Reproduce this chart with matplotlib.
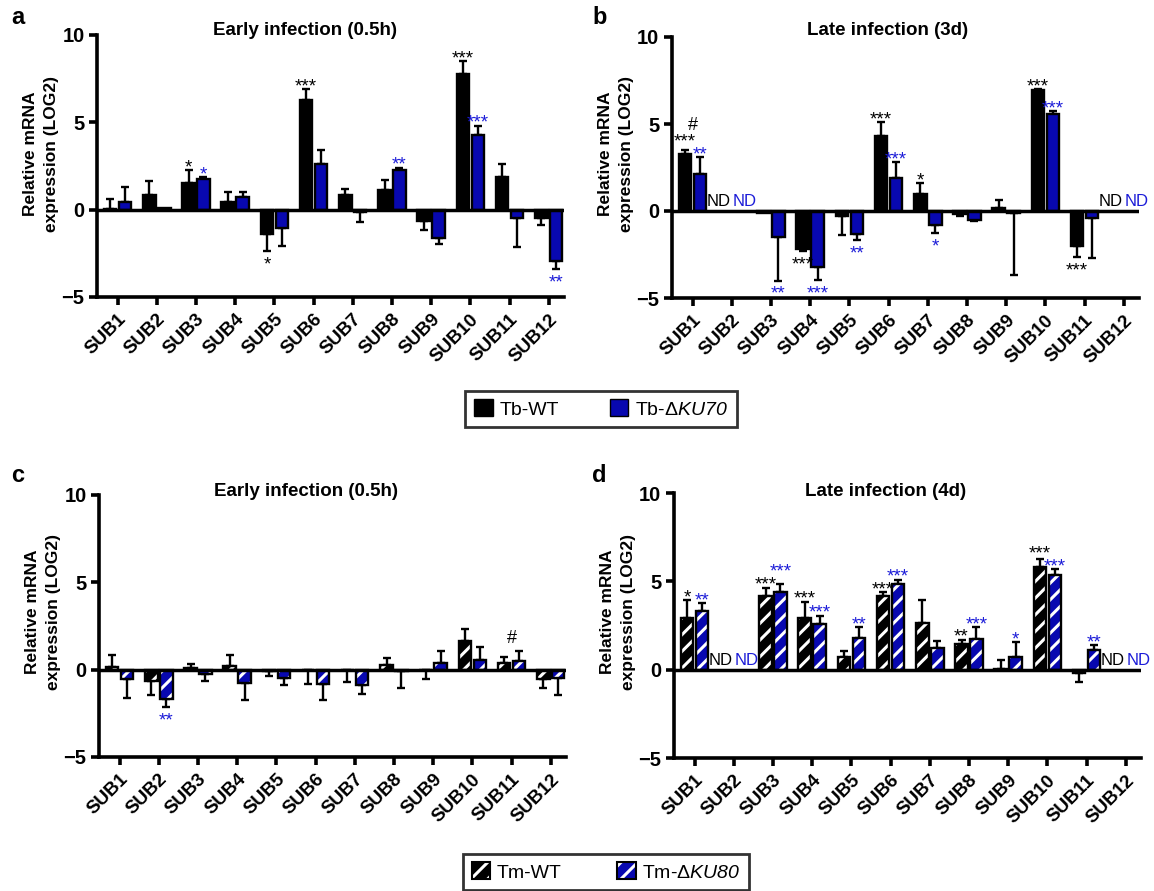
import numpy as np
import matplotlib
matplotlib.use('Agg')
import matplotlib.pyplot as plt
from matplotlib.patches import Patch

plt.rcParams['font.family'] = ['Liberation Sans', 'DejaVu Sans']
plt.rcParams['mathtext.fontset'] = 'custom'
plt.rcParams['mathtext.it'] = 'Liberation Sans:italic'
plt.rcParams['mathtext.rm'] = 'Liberation Sans:italic'
plt.rcParams['hatch.linewidth'] = 2.2

# ---------------- data ----------------
categories = ['SUB1', 'SUB2', 'SUB3', 'SUB4', 'SUB5', 'SUB6',
              'SUB7', 'SUB8', 'SUB9', 'SUB10', 'SUB11', 'SUB12']
nan = np.nan

# Panel a: Early infection (0.5h), Tb
a_wt = [0.05, 0.85, 1.55, 0.45, -1.4, 6.3, 0.85, 1.1, -0.65, 7.75, 1.85, -0.45]
a_wt_sem = [0.55, 0.8, 0.7, 0.55, 0.95, 0.6, 0.35, 0.6, 0.5, 0.75, 0.75, 0.45]
a_ko = [0.45, 0.08, 1.75, 0.7, -1.05, 2.6, -0.15, 2.25, -1.6, 4.3, -0.45, -2.95]
a_ko_sem = [0.85, 0.0, 0.1, 0.3, 1.05, 0.8, 0.55, 0.15, 0.35, 0.5, 1.7, 0.45]
a_sig_wt = ['', '', '*', '', '*', '***', '', '', '', '***', '', '']
a_sig_ko = ['', '', '*', '', '', '', '', '**', '', '***', '', '**']
a_hash = ['', '', '', '', '', '', '', '', '', '', '', '']

# Panel b: Late infection (3d), Tb
b_wt = [3.25, nan, -0.1, -2.2, -0.3, 4.3, 0.95, -0.2, 0.15, 6.95, -2.0, nan]
b_wt_sem = [0.25, 0, 0.0, 0.1, 1.1, 0.8, 0.65, 0.1, 0.5, 0.05, 0.65, 0]
b_ko = [2.1, nan, -1.5, -3.2, -1.35, 1.9, -0.8, -0.5, -0.1, 5.55, -0.4, nan]
b_ko_sem = [1.0, 0, 2.5, 0.75, 0.3, 0.9, 0.45, 0.05, 3.55, 0.2, 2.3, 0]
b_sig_wt = ['***', '', '', '***', '', '***', '*', '', '', '***', '***', '']
b_sig_ko = ['**', '', '**', '***', '**', '***', '*', '', '', '***', '', '']
b_hash = ['#', '', '', '', '', '', '', '', '', '', '', '']

# Panel c: Early infection (0.5h), Tm
c_wt = [0.15, -0.65, 0.1, 0.2, -0.05, -0.03, -0.03, 0.25, -0.03, 1.65, 0.4, -0.55]
c_wt_sem = [0.7, 0.8, 0.25, 0.65, 0.3, 0.77, 0.7, 0.4, 0.5, 0.7, 0.3, 0.5]
c_ko = [-0.55, -1.7, -0.25, -0.75, -0.5, -0.8, -0.85, -0.05, 0.4, 0.55, 0.5, -0.45]
c_ko_sem = [1.05, 0.45, 0.4, 1.0, 0.35, 0.95, 0.55, 1.0, 0.65, 0.75, 0.55, 1.0]
c_sig_wt = ['', '', '', '', '', '', '', '', '', '', '', '']
c_sig_ko = ['', '**', '', '', '', '', '', '', '', '', '', '']
c_hash = ['', '', '', '', '', '', '', '', '', '', '#', '']

# Panel d: Late infection (4d), Tm
d_wt = [2.9, nan, 4.15, 2.9, 0.7, 4.15, 2.65, 1.45, 0.02, 5.8, -0.2, nan]
d_wt_sem = [1.05, 0, 0.5, 0.95, 0.35, 0.25, 1.3, 0.25, 0.55, 0.45, 0.5, 0]
d_ko = [3.3, nan, 4.4, 2.6, 1.8, 4.85, 1.25, 1.75, 0.7, 5.35, 1.1, nan]
d_ko_sem = [0.45, 0, 0.45, 0.45, 0.6, 0.2, 0.4, 0.65, 0.85, 0.35, 0.3, 0]
d_sig_wt = ['*', '', '***', '***', '', '***', '', '**', '', '***', '', '']
d_sig_ko = ['**', '', '***', '***', '**', '***', '', '***', '*', '***', '**', '']
d_hash = ['', '', '', '', '', '', '', '', '', '', '', '']

titles = ['Early infection (0.5h)', 'Late infection (3d)',
          'Early infection (0.5h)', 'Late infection (4d)']
ylabel = 'Relative mRNA\nexpression (LOG2)'
yticks = [-5, 0, 5, 10]

# ---------------- style ----------------
BLUE = '#0808b0'
BLUE_TXT = '#1c1cd8'
W, H = 1154, 891
fig = plt.figure(figsize=(W / 100, H / 100), dpi=100)

OFF = 0.19
BW = 0.32
XMIN, XMAX = -0.525, 11.4
SPACING = 39.2
SIG_FS = 13.5


def make_ax(left, ytop, ybot):
    width = (XMAX - XMIN) * SPACING
    return fig.add_axes([left / W, 1 - ybot / H, width / W, (ybot - ytop) / H])


def sig_positions(vals, sems, sigs):
    """baseline y of each significance label (positive: above, negative: below)."""
    ys = np.full(len(vals), np.nan)
    for i, s in enumerate(sigs):
        if not s:
            continue
        v = vals[i]; e = sems[i]
        ys[i] = v + e - 0.12 if v >= 0 else v - e - 1.05
    return ys


def draw_panel(ax, wt, wt_sem, ko, ko_sem, sig_wt, sig_ko, hashes, hatched):
    wt = np.array(wt, float); ko = np.array(ko, float)
    wt_sem = np.array(wt_sem, float); ko_sem = np.array(ko_sem, float)
    x = np.arange(len(categories))
    for vals, sems, color, sgn in [(wt, wt_sem, 'black', -1), (ko, ko_sem, BLUE, 1)]:
        xs = x + sgn * OFF
        m = ~np.isnan(vals)
        if hatched:
            ax.bar(xs[m], vals[m], BW, color=color, edgecolor='white', linewidth=0,
                   hatch='//', zorder=2)
            ax.bar(xs[m], vals[m], BW, fill=False, edgecolor='black', linewidth=1.7, zorder=3)
        else:
            ax.bar(xs[m], vals[m], BW, color=color, edgecolor='black', linewidth=1.7, zorder=2)
        me = m & (sems > 0)
        lo = np.where(vals < 0, sems, 0)
        hi = np.where(vals >= 0, sems, 0)
        ax.errorbar(xs[me], vals[me], yerr=[lo[me], hi[me]], fmt='none', ecolor='black',
                    elinewidth=1.7, capsize=3, capthick=1.7, zorder=1.5)

    # significance marks, separated vertically when two wide labels would collide
    y_wt = sig_positions(wt, wt_sem, sig_wt)
    y_ko = sig_positions(ko, ko_sem, sig_ko)
    for i in range(len(categories)):
        if sig_wt[i] and sig_ko[i] and len(sig_wt[i]) + len(sig_ko[i]) > 4:
            if wt[i] >= 0 and ko[i] >= 0 and abs(y_wt[i] - y_ko[i]) < 0.72:
                if y_wt[i] >= y_ko[i]:
                    y_wt[i] = y_ko[i] + 0.72
                else:
                    y_ko[i] = y_wt[i] + 0.72
    for ys, sigs, color, sgn in [(y_wt, sig_wt, 'black', -1), (y_ko, sig_ko, BLUE_TXT, 1)]:
        for i, s in enumerate(sigs):
            if s:
                ax.text(i + sgn * OFF, ys[i], s, ha='center', va='baseline', fontsize=SIG_FS,
                        color=color, zorder=6)
    for i, s in enumerate(hashes):
        if not s:
            continue
        top = max(wt[i] + wt_sem[i], ko[i] + ko_sem[i])
        stacked = bool(sig_wt[i] or sig_ko[i])
        ax.text(i, top + (1.15 if stacked else 0.5), s, ha='center', va='baseline',
                fontsize=13, color='black', zorder=6)
    # ND labels
    for i in range(len(categories)):
        if np.isnan(wt[i]):
            ax.text(i - 0.02, 0.28, 'ND', ha='right', va='baseline', fontsize=12, color='black')
        if np.isnan(ko[i]):
            ax.text(i + 0.02, 0.28, 'ND', ha='left', va='baseline', fontsize=12, color=BLUE_TXT)

    ax.axhline(0, color='black', lw=2.5, zorder=4)
    ax.set_xlim(XMIN, XMAX)
    ax.set_ylim(-5, 10)
    for sp in ['top', 'right']:
        ax.spines[sp].set_visible(False)
    for sp in ['left', 'bottom']:
        ax.spines[sp].set_linewidth(2.6)
    ax.set_yticks(yticks)
    ax.set_yticklabels([str(t).replace('-', '\u2212') for t in yticks],
                       fontsize=14.5, fontweight='bold')
    ax.set_xticks(x)
    ax.set_xticklabels(categories, rotation=45, ha='right', rotation_mode='anchor',
                       fontsize=13.5, fontweight='bold')
    ax.tick_params(axis='both', direction='out', width=2.6, length=6, pad=3)
    ax.tick_params(axis='x', pad=4)
    ax.set_facecolor('none')


panels = [
    dict(left=97, ytop=35, ybot=297,
         data=(a_wt, a_wt_sem, a_ko, a_ko_sem, a_sig_wt, a_sig_ko, a_hash),
         hatched=False, letter='a', lab=(41, 154), title=(305, 35), lpos=(11, 18)),
    dict(left=672, ytop=37, ybot=298,
         data=(b_wt, b_wt_sem, b_ko, b_ko_sem, b_sig_wt, b_sig_ko, b_hash),
         hatched=False, letter='b', lab=(616, 154), title=(888, 35), lpos=(592, 18)),
    dict(left=99, ytop=495, ybot=757,
         data=(c_wt, c_wt_sem, c_ko, c_ko_sem, c_sig_wt, c_sig_ko, c_hash),
         hatched=True, letter='c', lab=(43, 612), title=(306, 496), lpos=(11, 476)),
    dict(left=674, ytop=493, ybot=758,
         data=(d_wt, d_wt_sem, d_ko, d_ko_sem, d_sig_wt, d_sig_ko, d_hash),
         hatched=True, letter='d', lab=(618, 612), title=(886, 496), lpos=(592, 476)),
]

for p, t in zip(panels, titles):
    ax = make_ax(p['left'], p['ytop'], p['ybot'])
    draw_panel(ax, *p['data'], hatched=p['hatched'])
    tx, ty = p['title']
    fig.text(tx / W, 1 - ty / H, t, ha='center', va='baseline', fontsize=13.5, fontweight='bold')
    lx, ly = p['lab']
    fig.text(lx / W, 1 - ly / H, ylabel, rotation=90, ha='center', va='center',
             fontsize=12.5, fontweight='bold', linespacing=1.45, multialignment='center')
    px, py = p['lpos']
    fig.text(px / W, 1 - py / H, p['letter'], ha='left', va='center', fontsize=17, fontweight='bold')

# legends
h1 = [Patch(facecolor='black', edgecolor='black'), Patch(facecolor=BLUE, edgecolor='black')]
l1 = ['Tb-WT', 'Tb-\u0394$KU70$']
leg1 = fig.legend(h1, l1, loc='center', bbox_to_anchor=(601 / W, 1 - 409 / H), ncol=2,
                  fontsize=14, frameon=True, fancybox=False, edgecolor='black',
                  handlelength=0.95, handleheight=0.95, handletextpad=0.35,
                  columnspacing=2.6, borderpad=0.45, borderaxespad=0)
leg1.get_frame().set_linewidth(2)

h2 = [(Patch(facecolor='black', edgecolor='white', hatch='//', linewidth=0),
       Patch(fill=False, edgecolor='black', linewidth=1.5)),
      (Patch(facecolor=BLUE, edgecolor='white', hatch='//', linewidth=0),
       Patch(fill=False, edgecolor='black', linewidth=1.5))]
l2 = ['Tm-WT', 'Tm-\u0394$KU80$']
leg2 = fig.legend(h2, l2, loc='center', bbox_to_anchor=(606 / W, 1 - 872 / H), ncol=2,
                  fontsize=14, frameon=True, fancybox=False, edgecolor='black',
                  handlelength=0.95, handleheight=0.95, handletextpad=0.3,
                  columnspacing=2.9, borderpad=0.45, borderaxespad=0)
leg2.get_frame().set_linewidth(2)

fig.savefig('out.png', dpi=100, facecolor='white')
